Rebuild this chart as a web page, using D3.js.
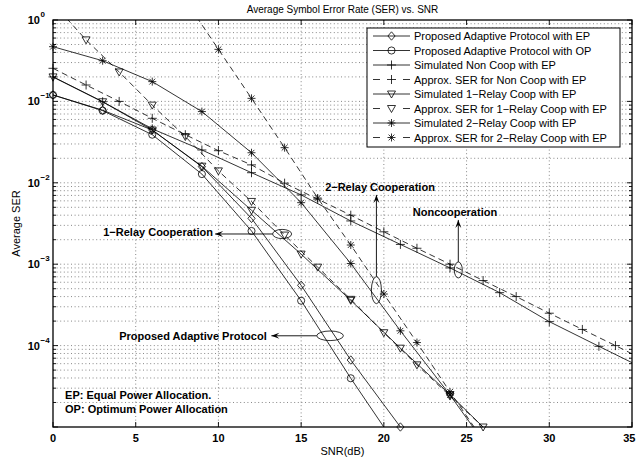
<!DOCTYPE html>
<html>
<head>
<meta charset="utf-8">
<script src="https://cdn.jsdelivr.net/npm/d3@7"></script>
<style>
  body { margin: 0; background: #fff; }
  svg { font-family: "Liberation Sans", Arial, Helvetica, sans-serif; }
</style>
</head>
<body>
<div id="chart"></div>
<script>
// SER vs SNR chart

// snr grids used by the series
let snrStep3 = [0, 3, 6, 9, 12, 15, 18, 21];
let snrNonCoopSim = [0, 3, 6, 9, 12, 15, 18, 21, 24, 27, 30, 33, 36];
let snrNonCoopApx = [0, 2, 4, 6, 8, 10, 12, 14, 16, 18, 20, 22, 24, 26, 28, 30, 32, 34, 36];
let snrOneRelaySim = [0, 3, 6, 9, 12, 15, 18, 21, 24, 27];
let snrOneRelayApx = [0, 2, 4, 6, 8, 10, 12, 14, 16, 18, 20, 22, 24, 26];
let snrTwoRelaySim = [0, 3, 6, 9, 12, 15, 18, 21, 24, 27];
let snrTwoRelayApx = [8, 10, 12, 14, 16, 18, 20, 22, 24, 26];

// series values (SER)
let adaptiveEP = [0.12, 0.078, 0.0445, 0.0158, 3.66e-3, 5.5e-4, 6.65e-5, 1.0e-5];
let adaptiveOP = [0.12, 0.077, 0.039, 0.0128, 2.56e-3, 3.56e-4, 3.97e-5, 5.0e-6];
let nonCoopSim = [0.2, 0.099, 0.046, 0.0253, 0.0133, 0.0071, 0.0034, 0.00175, 9.0e-4, 4.47e-4, 1.97e-4, 9.8e-5, 4.9e-5];
let nonCoopApx = [0.255, 0.159, 0.1, 0.062, 0.039, 0.0248, 0.0166, 0.0099, 0.0063, 0.004, 0.0025, 0.00157, 0.001, 6.3e-4, 4.0e-4, 2.5e-4, 1.58e-4, 1.0e-4, 6.3e-5];
let oneRelaySim = [0.2, 0.099, 0.0445, 0.016, 4.6e-3, 1.33e-3, 3.6e-4, 9.3e-5, 2.5e-5, 6.3e-6];
let oneRelayApx = [1.6, 0.57, 0.23, 0.09, 0.037, 0.014, 5.9e-3, 2.28e-3, 9.2e-4, 3.7e-4, 1.44e-4, 5.8e-5, 2.4e-5, 1.0e-5];
let twoRelaySim = [0.47, 0.316, 0.175, 0.075, 0.0234, 5.7e-3, 1.02e-3, 1.52e-4, 2.47e-5, 3.5e-6];
let twoRelayApx = [1.75, 0.436, 0.109, 0.027, 6.5e-3, 1.72e-3, 4.3e-4, 1.09e-4, 2.7e-5, 6.9e-6];

let legendNames = [
  "Proposed Adaptive Protocol with EP",
  "Proposed Adaptive Protocol with OP",
  "Simulated Non Coop with EP",
  "Approx. SER for Non Coop with EP",
  "Simulated 1\u2212Relay Coop with EP",
  "Approx. SER for 1\u2212Relay Coop with EP",
  "Simulated 2\u2212Relay Coop with EP",
  "Approx. SER for 2\u2212Relay Coop with EP"
];

let xTicks = [0, 5, 10, 15, 20, 25, 30, 35];
let yTickExps = [0, -1, -2, -3, -4];

// series table for drawing
let series = [
  {name: legendNames[0], x: snrStep3, y: adaptiveEP, dash: false, mark: "diamond"},
  {name: legendNames[1], x: snrStep3, y: adaptiveOP, dash: false, mark: "circle"},
  {name: legendNames[2], x: snrNonCoopSim, y: nonCoopSim, dash: false, mark: "plus"},
  {name: legendNames[3], x: snrNonCoopApx, y: nonCoopApx, dash: true, mark: "plus"},
  {name: legendNames[4], x: snrOneRelaySim, y: oneRelaySim, dash: false, mark: "tri"},
  {name: legendNames[5], x: snrOneRelayApx, y: oneRelayApx, dash: true, mark: "tri"},
  {name: legendNames[6], x: snrTwoRelaySim, y: twoRelaySim, dash: false, mark: "star"},
  {name: legendNames[7], x: snrTwoRelayApx, y: twoRelayApx, dash: true, mark: "star"}
];

let W = 636, H = 460;
let margin = {top: 20, right: 4, bottom: 33, left: 53};
let w = W - margin.left - margin.right;
let h = H - margin.top - margin.bottom;

let x = d3.scaleLinear().domain([0, 35]).range([0, w]);
let y = d3.scaleLog().domain([1e-5, 1]).range([h, 0]);

let svg = d3.select("#chart").append("svg")
  .attr("width", W)
  .attr("height", H);

let g = svg.append("g")
  .attr("transform", "translate(" + margin.left + "," + margin.top + ")");

// grid
let minorY = [];
for (let e = -5; e < 0; e++) {
  for (let m = 1; m < 10; m++) minorY.push(m * Math.pow(10, e));
}
minorY.push(1);

g.append("g").selectAll("line")
  .data(minorY.filter(function(v) { return v > 1e-5 && v < 1; }))
  .enter().append("line")
  .attr("x1", 0).attr("x2", w)
  .attr("y1", function(d) { return y(d); })
  .attr("y2", function(d) { return y(d); })
  .attr("stroke", "#555")
  .attr("stroke-width", 0.7)
  .attr("stroke-dasharray", "1,2.6");

g.append("g").selectAll("line")
  .data(xTicks.filter(function(v) { return v > 0 && v < 35; }))
  .enter().append("line")
  .attr("y1", 0).attr("y2", h)
  .attr("x1", function(d) { return x(d); })
  .attr("x2", function(d) { return x(d); })
  .attr("stroke", "#555")
  .attr("stroke-width", 0.7)
  .attr("stroke-dasharray", "1,2.6");

// clip for lines
svg.append("defs").append("clipPath").attr("id", "plotClip")
  .append("rect").attr("width", w).attr("height", h);

function markerPath(type) {
  if (type == "diamond") return "M0,-4.2L3.6,0L0,4.2L-3.6,0Z";
  if (type == "circle") return d3.symbol().type(d3.symbolCircle).size(40)();
  if (type == "tri") return "M-4,-3L4,-3L0,4Z";
  if (type == "plus") return "M-4.5,0H4.5M0,-4.5V4.5";
  if (type == "star") return "M-4,0H4M0,-4V4M-2.9,-2.9L2.9,2.9M-2.9,2.9L2.9,-2.9";
}

let line = d3.line()
  .x(function(d) { return x(d[0]); })
  .y(function(d) { return y(d[1]); });

series.forEach(function(s) {
  let pts = s.x.map(function(v, i) { return [v, s.y[i]]; });
  g.append("path")
    .attr("clip-path", "url(#plotClip)")
    .attr("d", line(pts))
    .attr("fill", "none")
    .attr("stroke", "#000")
    .attr("stroke-width", 0.8)
    .attr("stroke-dasharray", s.dash ? "6,4" : null);

  let inside = pts.filter(function(p) {
    return p[0] >= 0 && p[0] <= 35 && p[1] >= 1e-5 * 0.98 && p[1] <= 1;
  });
  g.append("g").selectAll("path")
    .data(inside)
    .enter().append("path")
    .attr("transform", function(d) { return "translate(" + x(d[0]) + "," + y(d[1]) + ")"; })
    .attr("d", markerPath(s.mark))
    .attr("fill", "none")
    .attr("stroke", "#000")
    .attr("stroke-width", 0.8);
});

// axes box and ticks
g.append("rect")
  .attr("width", w).attr("height", h)
  .attr("fill", "none").attr("stroke", "#000").attr("stroke-width", 1.3);

let tickG = g.append("g").attr("stroke", "#000").attr("stroke-width", 0.9);
xTicks.forEach(function(t) {
  tickG.append("line").attr("x1", x(t)).attr("x2", x(t)).attr("y1", h).attr("y2", h - 5);
  tickG.append("line").attr("x1", x(t)).attr("x2", x(t)).attr("y1", 0).attr("y2", 5);
});
minorY.forEach(function(v) {
  let major = Math.abs(Math.log10(v) - Math.round(Math.log10(v))) < 1e-9;
  let len = major ? 5 : 3;
  tickG.append("line").attr("x1", 0).attr("x2", len).attr("y1", y(v)).attr("y2", y(v));
  tickG.append("line").attr("x1", w).attr("x2", w - len).attr("y1", y(v)).attr("y2", y(v));
});

// tick labels (last one kept inside the page edge)
g.append("g").selectAll("text")
  .data(xTicks)
  .enter().append("text")
  .attr("x", function(d) { return d == 35 ? W - margin.left - 0.5 : x(d); })
  .attr("y", h + 15)
  .attr("text-anchor", function(d) { return d == 35 ? "end" : "middle"; })
  .attr("font-size", 11)
  .attr("font-weight", "bold")
  .text(function(d) { return d; });

let yl = g.append("g");
yTickExps.forEach(function(e) {
  let py = y(Math.pow(10, e));
  yl.append("text")
    .attr("x", -13).attr("y", py + 4)
    .attr("text-anchor", "end")
    .attr("font-size", 11).attr("font-weight", "bold")
    .text("10");
  yl.append("text")
    .attr("x", -12.5).attr("y", py - 3)
    .attr("font-size", 8).attr("font-weight", "bold")
    .text(e == 0 ? "0" : "\u2212" + (-e));
});

// title and axis labels
svg.append("text")
  .attr("x", margin.left + w / 2).attr("y", 13)
  .attr("text-anchor", "middle").attr("font-size", 10)
  .text("Average Symbol Error Rate (SER) vs. SNR");

svg.append("text")
  .attr("x", margin.left + w / 2).attr("y", 455)
  .attr("text-anchor", "middle").attr("font-size", 11)
  .text("SNR(dB)");

svg.append("text")
  .attr("transform", "translate(20," + (margin.top + h / 2) + ") rotate(-90)")
  .attr("text-anchor", "middle").attr("font-size", 11)
  .text("Average SER");

// legend
let lg = svg.append("g").attr("transform", "translate(367,28)");
lg.append("rect")
  .attr("width", 253).attr("height", 119)
  .attr("fill", "#fff").attr("stroke", "#000").attr("stroke-width", 1);
series.forEach(function(s, i) {
  let ly = 8 + i * 14.5;
  lg.append("line")
    .attr("x1", 6).attr("x2", 43).attr("y1", ly).attr("y2", ly)
    .attr("stroke", "#000").attr("stroke-width", 0.8)
    .attr("stroke-dasharray", s.dash ? "7,23" : null);
  lg.append("path")
    .attr("transform", "translate(24.5," + ly + ")")
    .attr("d", markerPath(s.mark))
    .attr("fill", "none").attr("stroke", "#000").attr("stroke-width", 0.8);
  lg.append("text")
    .attr("x", 47).attr("y", ly + 4)
    .attr("font-size", 11)
    .text(s.name);
});

// annotations (in data coordinates)
let ellipses = [
  {snr: 13.85, ser: 2.35e-3, rx: 9.5, ry: 4.6},
  {snr: 19.55, ser: 4.8e-4, rx: 5, ry: 13.5},
  {snr: 24.5, ser: 8.5e-4, rx: 4, ry: 8},
  {snr: 16.75, ser: 1.32e-4, rx: 13.3, ry: 4.8}
];
ellipses.forEach(function(e) {
  g.append("ellipse")
    .attr("cx", x(e.snr)).attr("cy", y(e.ser))
    .attr("rx", e.rx).attr("ry", e.ry)
    .attr("fill", "none").attr("stroke", "#000").attr("stroke-width", 0.8);
});

function arrow(x1, y1, x2, y2) {
  g.append("line")
    .attr("x1", x1).attr("y1", y1).attr("x2", x2).attr("y2", y2)
    .attr("stroke", "#000").attr("stroke-width", 0.9);
  let a = Math.atan2(y2 - y1, x2 - x1);
  let L = 8, Wd = 3;
  let p = [
    [x2, y2],
    [x2 - L * Math.cos(a) + Wd * Math.sin(a), y2 - L * Math.sin(a) - Wd * Math.cos(a)],
    [x2 - 0.6 * L * Math.cos(a), y2 - 0.6 * L * Math.sin(a)],
    [x2 - L * Math.cos(a) - Wd * Math.sin(a), y2 - L * Math.sin(a) + Wd * Math.cos(a)]
  ];
  g.append("path").attr("d", "M" + p.join("L") + "Z").attr("fill", "#000");
}

arrow(x(13.85) - 9.5, y(2.35e-3), x(9.8), y(2.35e-3));
arrow(x(19.55), y(4.8e-4) - 13.5, x(19.55), y(7.1e-3));
arrow(x(24.5), y(8.5e-4) - 8, x(24.5), y(3.5e-3));
arrow(x(16.75) - 13.3, y(1.32e-4), x(13.2), y(1.32e-4));

let notes = [
  {text: "1\u2212Relay Cooperation", snr: 9.67, ser: 2.49e-3, anchor: "end"},
  {text: "2\u2212Relay Cooperation", snr: 16.45, ser: 8.95e-3, anchor: "start"},
  {text: "Noncooperation", snr: 21.75, ser: 4.4e-3, anchor: "start"},
  {text: "Proposed Adaptive Protocol", snr: 12.92, ser: 1.3e-4, anchor: "end"},
  {text: "EP: Equal Power Allocation.", snr: 0.73, ser: 2.5e-5, anchor: "start"},
  {text: "OP: Optimum Power Allocation", snr: 0.73, ser: 1.67e-5, anchor: "start"}
];
g.append("g").selectAll("text")
  .data(notes)
  .enter().append("text")
  .attr("x", function(d) { return x(d.snr); })
  .attr("y", function(d) { return y(d.ser) + 4; })
  .attr("text-anchor", function(d) { return d.anchor; })
  .attr("font-size", 11)
  .attr("font-weight", "bold")
  .text(function(d) { return d.text; });
</script>
</body>
</html>
